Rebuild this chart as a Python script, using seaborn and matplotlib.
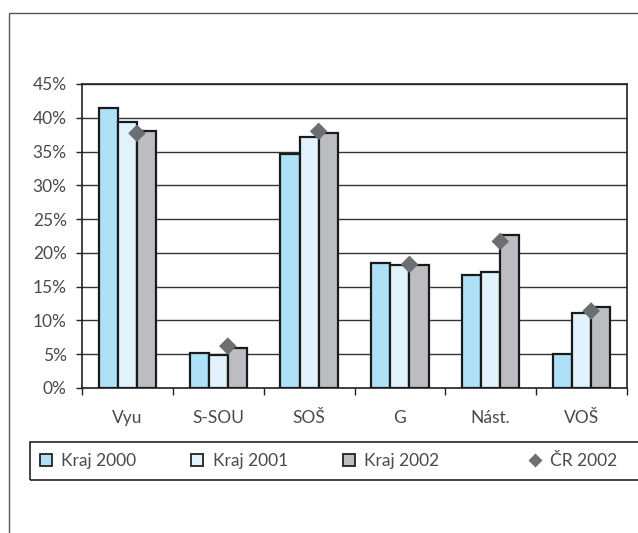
import pandas as pd
import seaborn as sns
import matplotlib.pyplot as plt
from matplotlib.lines import Line2D
from matplotlib.patches import Rectangle
from matplotlib.ticker import FixedLocator, FuncFormatter

# Data (shares in %)
categories = ['Vyu', 'S-SOU', 'SOŠ', 'G', 'Nást.', 'VOŠ']
kraj_2000 = [41.5, 5.2, 34.7, 18.5, 16.7, 5.0]
kraj_2001 = [39.4, 4.9, 37.1, 18.2, 17.1, 11.1]
kraj_2002 = [38.0, 5.9, 37.7, 18.2, 22.6, 12.0]
cr_2002 = [37.7, 6.2, 38.0, 18.3, 21.7, 11.4]

series_names = ['Kraj 2000', 'Kraj 2001', 'Kraj 2002']
colors = ['#aee0f8', '#e1f2fc', '#bcbdc0']
text_col = '#4a4a4a'
fs = 12.5

df = pd.DataFrame({
    'kategorie': categories * 3,
    'podil': kraj_2000 + kraj_2001 + kraj_2002,
    'rada': [s for s in series_names for _ in categories],
})

sns.set_style('white')
plt.rcParams['font.family'] = ['Lato', 'DejaVu Sans']

fig = plt.figure(figsize=(6.38, 5.33), dpi=100)
ax = fig.add_axes([82 / 638, 1 - 388 / 533, (627 - 82) / 638, (388 - 84) / 533])

sns.barplot(data=df, x='kategorie', y='podil', hue='rada', palette=colors,
            saturation=1, width=0.63, edgecolor='#1a1a1a', linewidth=1.6,
            ax=ax, legend=False, zorder=3)

# CR 2002 diamonds sit at the boundary of the 2nd and 3rd bar
cr_x = [i + 0.63 / 6 for i in range(len(categories))]
sns.scatterplot(x=cr_x, y=cr_2002, marker='D', s=80, color='#6d6e71',
                edgecolor='none', ax=ax, zorder=4)

ax.set_xlim(-0.5, len(categories) - 0.5)
ax.set_ylim(0, 45)
ax.yaxis.set_major_locator(FixedLocator(range(0, 46, 5)))
ax.yaxis.set_major_formatter(FuncFormatter(lambda v, p: f'{int(v)}%'))
ax.yaxis.grid(True, color='#333333', lw=1.0)
ax.set_axisbelow(True)

ax.set_xticks(range(len(categories)))
ax.set_xticklabels(categories)
ax.xaxis.set_minor_locator(FixedLocator([i - 0.5 for i in range(len(categories) + 1)]))
ax.tick_params(axis='x', which='major', length=0, pad=16, labelsize=fs, labelcolor=text_col)
ax.tick_params(axis='x', which='minor', length=5, width=1, color='#222222', direction='out', bottom=True)
ax.tick_params(axis='y', length=4, width=1, color='#222222', direction='out', left=True,
               pad=7, labelsize=fs, labelcolor=text_col)
ax.set_xlabel('')
ax.set_ylabel('')
for sp in ax.spines.values():
    sp.set_visible(True)
    sp.set_color('#222222')
    sp.set_linewidth(1.2)

# legend box (runs off the right edge as in the reference)
fig.patches.append(Rectangle((30 / 638, 1 - 480 / 533), 1.0, 38 / 533,
                             transform=fig.transFigure, fill=False,
                             edgecolor='#222222', lw=1.2))

handles = [Line2D([], [], ls='none', marker='s', ms=8, mfc=c, mec='#222222', mew=1.3)
           for c in colors]
leg1 = fig.legend(handles, series_names, loc='center left',
                  bbox_to_anchor=(37 / 638, 1 - 461 / 533), ncol=3, frameon=False,
                  fontsize=fs, handletextpad=0.4, columnspacing=3.0,
                  handlelength=1.0, borderpad=0, borderaxespad=0, labelcolor=text_col)
cr_handle = [Line2D([], [], ls='none', marker='D', ms=7, mfc='#6d6e71', mec='none')]
leg2 = fig.legend(cr_handle, ['ČR 2002'], loc='center left',
                  bbox_to_anchor=(526 / 638, 1 - 461 / 533), frameon=False,
                  fontsize=fs, handletextpad=0.4, handlelength=1.0,
                  borderpad=0, borderaxespad=0, labelcolor=text_col)

# outer frame of the chart area
fig.patches.append(Rectangle((9 / 638, -0.05), 1.0, 1 - 13 / 533 + 0.05,
                             transform=fig.transFigure, fill=False,
                             edgecolor='#555555', lw=1.0))

fig.savefig('out.png', dpi=100)
